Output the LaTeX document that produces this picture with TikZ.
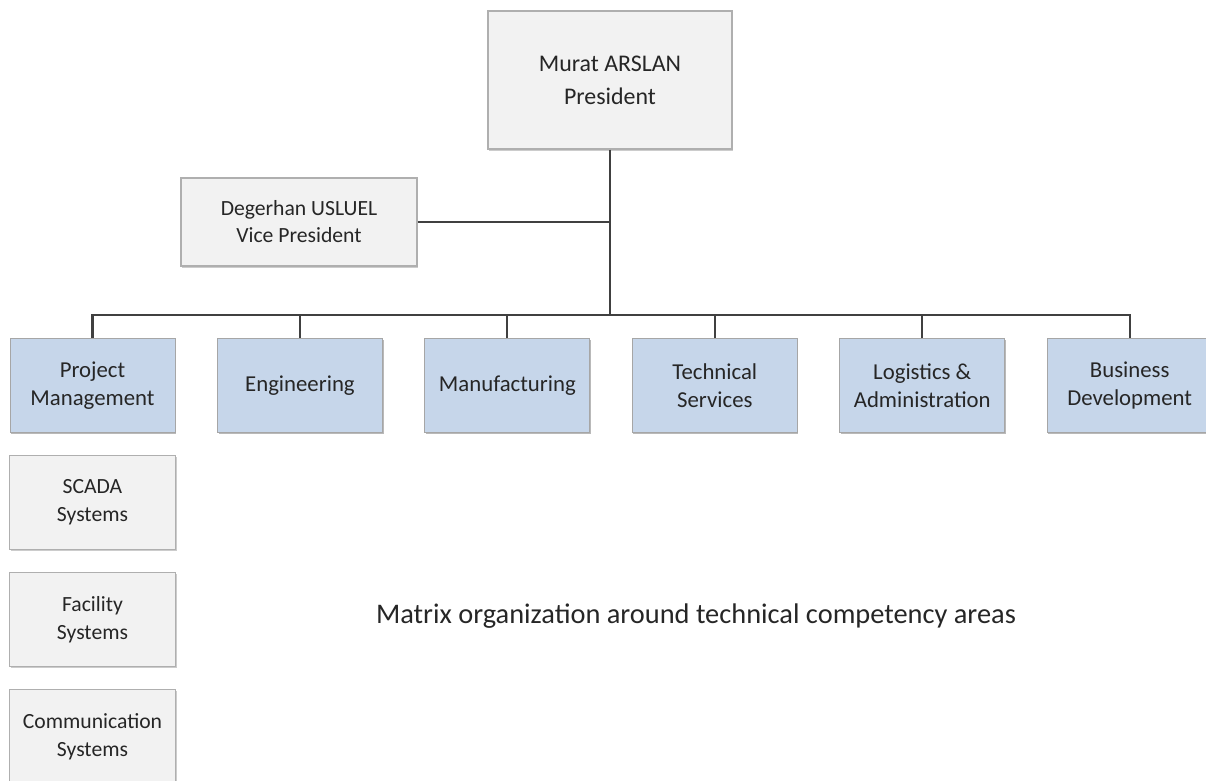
\documentclass[tikz,border=0pt]{standalone}
\usepackage{fontspec}
\setmainfont{Carlito}
\usepackage{xcolor}
\usetikzlibrary{positioning}
\usetikzlibrary{shadows}

\definecolor{deptblue}{RGB}{198,214,234}
\definecolor{boxgray}{RGB}{242,242,242}
\definecolor{edgegray}{RGB}{175,175,175}
\definecolor{textdark}{RGB}{38,38,38}

\begin{document}
\begin{tikzpicture}[
    boss/.style={draw=edgegray,line width=0.9pt,fill=boxgray,rectangle,
        drop shadow={shadow xshift=1pt,shadow yshift=-1.3pt,fill=black!40},
        align=center,minimum width=6.1cm,minimum height=3.45cm,
        font=\fontsize{17}{23.5}\selectfont,text=textdark},
    deputy/.style={draw=edgegray,line width=0.8pt,fill=boxgray,rectangle,
        drop shadow={shadow xshift=1pt,shadow yshift=-1.3pt,fill=black!40},
        align=center,minimum width=5.9cm,minimum height=2.2cm,
        font=\fontsize{15.4}{19.2}\selectfont,text=textdark},
    dept/.style={draw=black!35,line width=0.6pt,fill=deptblue,rectangle,
        drop shadow={shadow xshift=0.8pt,shadow yshift=-1.2pt,fill=black!55},
        align=center,minimum width=4.125cm,minimum height=2.35cm,
        font=\fontsize{16.2}{20}\selectfont,text=textdark,node distance=1.04cm},
    unit/.style={draw=edgegray,line width=0.8pt,fill=boxgray,rectangle,
        drop shadow={shadow xshift=0.8pt,shadow yshift=-1.2pt,fill=black!40},
        align=center,minimum width=4.15cm,minimum height=2.35cm,
        font=\fontsize{15.4}{20}\selectfont,text=textdark,node distance=0.55cm},
    link/.style={draw=black!75,line width=1.5pt}]
\clip (0,0) rectangle (30.15,-19.525);

\node[boss] (president) at (15.25,-2.0) {Murat ARSLAN\\President};
\node[deputy] (vp) at (7.475,-5.55) {Degerhan USLUEL\\Vice President};

\node[dept] (pm) at (2.3125,-9.6375) {Project\\Management};
\node[dept] (eng) [right=of pm] {Engineering};
\node[dept] (mfg) [right=of eng] {Manufacturing};
\node[dept] (tech) [right=of mfg] {Technical\\Services};
\node[dept] (log) [right=of tech] {Logistics \&\\Administration};
\node[dept] (biz) [right=of log] {Business\\Development};

\node[unit] (scada) [below=of pm] {SCADA\\Systems};
\node[unit] (facility) [below=of scada] {Facility\\Systems};
\node[unit] (comm) [below=of facility] {Communication\\Systems};

\node[font=\fontsize{20.2}{24}\selectfont,text=textdark] (caption) at (17.4,-15.4)
    {Matrix organization around technical competency areas};

\coordinate (bus) at (15.25,-7.875);
\draw[link] (president) -- (bus);
\draw[link] (vp) -- (vp -| president);
\draw[link] (pm.north) |- (bus) -| (biz.north);
\foreach \d in {eng,mfg,tech,log}
    \draw[link] (\d.north) -- (\d.north |- bus);
\end{tikzpicture}
\end{document}
